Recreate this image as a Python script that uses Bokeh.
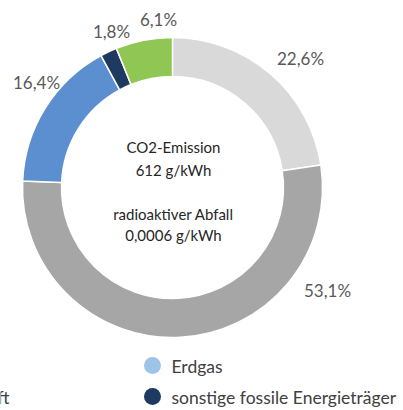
import numpy as np
from bokeh.plotting import figure
from bokeh.models import Range1d, ColumnDataSource
from bokeh.core.properties import value
from bokeh.embed import file_html
from bokeh.resources import INLINE

# ---- data ----
categories = ["Kernkraft", "Kohle", "Erdgas", "sonstige fossile Energieträger", "Erneuerbare"]
shares = [22.6, 53.1, 16.4, 1.8, 6.1]
share_labels = ["22,6%", "53,1%", "16,4%", "1,8%", "6,1%"]
center_lines = ["CO2-Emission", "612 g/kWh", "radioaktiver Abfall", "0,0006 g/kWh"]
legend_names = ["Erdgas", "sonstige fossile Energieträger"]
legend_left_names = ["Kernkraft"]

# ---- style / layout ----
ring_colors = ["#d9d9d9", "#a6a6a6", "#5b8fd0", "#1f3a60", "#8fc654"]
legend_colors = ["#9dc3e6", "#1f3a60"]
W, H = 403, 410
CX, CY = 172, 187          # centre in picture pixels
R_OUT, R_IN = 150, 111
label_offsets = [(128, -129), (155, 103), (-136, -105), (-61, -156), (-14, -168)]
center_y = [146, 169, 213, 234]
legend_rows_y = [366, 397]
FONT = value("Lato")


def fy(y_img):
    return H - y_img


p = figure(width=W, height=H, output_backend="svg", toolbar_location=None,
           x_range=Range1d(0, W), y_range=Range1d(0, H),
           min_border=0, outline_line_color=None)
p.axis.visible = False
p.grid.visible = False
p.background_fill_color = "white"
p.border_fill_color = "white"

frac = np.array(shares) / np.sum(shares)
cum = np.concatenate([[0.0], np.cumsum(frac)])
starts = np.pi / 2 - 2 * np.pi * cum[:-1]
ends = np.pi / 2 - 2 * np.pi * cum[1:]

src = ColumnDataSource(dict(x=[CX] * len(shares), y=[fy(CY)] * len(shares),
                            start=starts, end=ends, color=ring_colors,
                            name=categories))
p.annular_wedge(x="x", y="y", inner_radius=R_IN, outer_radius=R_OUT,
                start_angle="start", end_angle="end", direction="clock",
                fill_color="color", line_color="white", line_width=1.5,
                source=src)

# percentage labels
lx = [CX + dx for dx, dy in label_offsets]
ly = [fy(CY + dy) for dx, dy in label_offsets]
p.text(x=lx, y=ly, text=share_labels, text_font=FONT, text_font_size="17px",
       text_color="#595959", text_align="center", text_baseline="middle")

# centre text
p.text(x=[CX + 1] * len(center_lines), y=[fy(v) for v in center_y], text=center_lines,
       text_font=FONT, text_font_size="15px", text_color="#262626",
       text_align="center", text_baseline="middle")

# legend
p.scatter(x=[152] * len(legend_names), y=[fy(v - 1) for v in legend_rows_y],
          size=17, marker="circle", fill_color=legend_colors, line_color=None)
p.text(x=[171] * len(legend_names), y=[fy(v) for v in legend_rows_y],
       text=legend_names, text_font=FONT, text_font_size="17.5px",
       text_color="#404040", text_align="left", text_baseline="middle")
p.text(x=[9], y=[fy(legend_rows_y[1])], text=legend_left_names,
       text_font=FONT, text_font_size="17.5px", text_color="#404040",
       text_align="right", text_baseline="middle")

open("out.html", "w").write(file_html(p, INLINE))
